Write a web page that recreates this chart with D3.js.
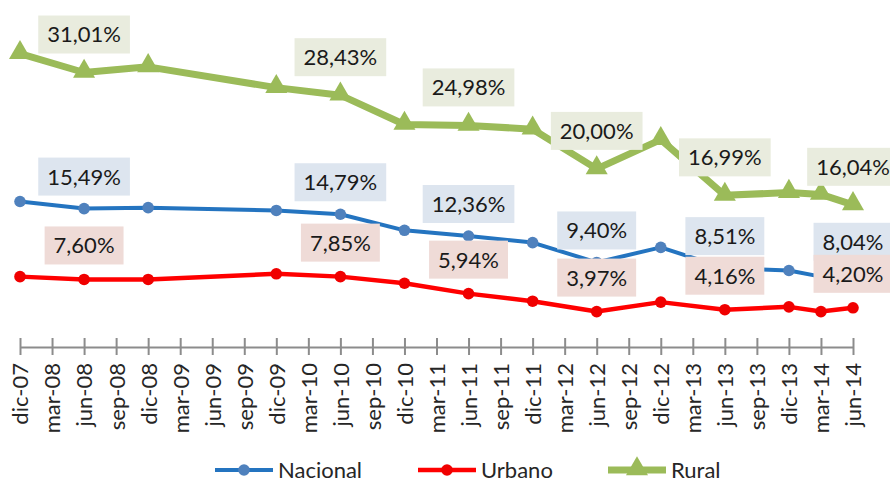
<!DOCTYPE html>
<html>
<head>
<meta charset="utf-8">
<script src="https://cdn.jsdelivr.net/npm/d3@7"></script>
<style>
  html, body { margin: 0; padding: 0; background: #fff; }
  svg { display: block; font-family: Lato, "Open Sans", sans-serif; }
</style>
</head>
<body>
<svg id="chart" width="890" height="484"></svg>
<script>
'use strict';

// quarterly categories on the x axis
var CATEGORIES = ['dic-07', 'mar-08', 'jun-08', 'sep-08', 'dic-08', 'mar-09', 'jun-09', 'sep-09',
  'dic-09', 'mar-10', 'jun-10', 'sep-10', 'dic-10', 'mar-11', 'jun-11', 'sep-11', 'dic-11',
  'mar-12', 'jun-12', 'sep-12', 'dic-12', 'mar-13', 'jun-13', 'sep-13', 'dic-13', 'mar-14', 'jun-14'];

// periods that actually have a measurement
var PERIODS = ['dic-07', 'jun-08', 'dic-08', 'dic-09', 'jun-10', 'dic-10', 'jun-11', 'dic-11',
  'jun-12', 'dic-12', 'jun-13', 'dic-13', 'mar-14', 'jun-14'];

var NACIONAL = [15.45, 14.7, 14.8, 14.5, 14.1, 12.4, 11.8, 11.1, 9.0, 10.6, 8.4, 8.15, 7.5, 7.8];
var URBANO = [7.5, 7.2, 7.2, 7.8, 7.5, 6.8, 5.7, 4.9, 3.8, 4.8, 4.0, 4.3, 3.8, 4.2];
var RURAL = [31.1, 29.1, 29.7, 27.5, 26.7, 23.6, 23.5, 23.1, 18.9, 22.0, 16.1, 16.4, 16.2, 15.1];

// data labels shown on the june points
var LABEL_PERIODS = ['jun-08', 'jun-10', 'jun-11', 'jun-12', 'jun-13', 'jun-14'];
var NACIONAL_LABELS = ['15,49%', '14,79%', '12,36%', '9,40%', '8,51%', '8,04%'];
var URBANO_LABELS = ['7,60%', '7,85%', '5,94%', '3,97%', '4,16%', '4,20%'];
var RURAL_LABELS = ['31,01%', '28,43%', '24,98%', '20,00%', '16,99%', '16,04%'];

var SERIES = [
  { name: 'Nacional', values: NACIONAL, labels: NACIONAL_LABELS, line: '#2474c0', marker: '#4f81bd',
    width: 4, shape: 'circle', box: '#dde5ef', lift: 32 },
  { name: 'Urbano', values: URBANO, labels: URBANO_LABELS, line: '#ff0000', marker: '#f00000',
    width: 4.5, shape: 'circle', box: '#efdbd7', lift: 34 },
  { name: 'Rural', values: RURAL, labels: RURAL_LABELS, line: '#9bbb59', marker: '#9bbb59',
    width: 7, shape: 'triangle', box: '#e9ecde', lift: 38 },
];

(function draw() {
  var svg = d3.select('#chart');
  var x = d3.scalePoint().domain(CATEGORIES).range([20, 853]);
  var y = d3.scaleLinear().domain([0, 35]).range([347.5, 16.75]);

  var axisG = svg.append('g').attr('transform', 'translate(0,338)')
    .call(d3.axisBottom(x).tickSize(17).tickSizeOuter(0));
  axisG.select('.domain').remove();
  axisG.selectAll('.tick line').attr('stroke', '#8c8c8c').attr('stroke-width', 2);
  axisG.selectAll('.tick text')
    .attr('transform', 'rotate(-90)')
    .attr('x', -25).attr('y', 0).attr('dy', '0.36em')
    .style('text-anchor', 'end')
    .style('font-family', 'Lato, "Open Sans", sans-serif')
    .style('font-size', '22px')
    .attr('fill', '#262626');
  svg.append('line')
    .attr('x1', x(CATEGORIES[0])).attr('x2', x(CATEGORIES[CATEGORIES.length - 1]))
    .attr('y1', y(0)).attr('y2', y(0))
    .attr('stroke', '#8c8c8c').attr('stroke-width', 2);

  function marker(g, s, cx, cy) {
    if (s.shape === 'circle') {
      g.append('circle').attr('cx', cx).attr('cy', cy).attr('r', 5.8).attr('fill', s.marker);
    } else {
      g.append('path').attr('d', d3.symbol(d3.symbolTriangle, 210)())
        .attr('transform', 'translate(' + cx + ',' + (cy - 1) + ')')
        .attr('fill', s.marker);
    }
  }

  var line = d3.line().x(function (d) { return x(d.p); }).y(function (d) { return y(d.v); });

  // draw rural first so the thinner lines sit on top
  SERIES.slice().reverse().forEach(function (s) {
    var pts = PERIODS.map(function (p, i) { return { p: p, v: s.values[i] }; });
    var g = svg.append('g');
    g.append('path').attr('d', line(pts)).attr('fill', 'none')
      .attr('stroke', s.line).attr('stroke-width', s.width).attr('stroke-linejoin', 'round');
    pts.forEach(function (d) { marker(g, s, x(d.p), y(d.v)); });
  });

  // data labels on top of the lines
  SERIES.forEach(function (s) {
    s.labels.forEach(function (txt, i) {
      var p = LABEL_PERIODS[i];
      var v = s.values[PERIODS.indexOf(p)];
      var cx = x(p), cy = y(v) - s.lift;
      var g = svg.append('g');
      var rect = g.append('rect').attr('fill', s.box);
      var t = g.append('text').attr('x', cx).attr('y', cy).attr('dy', '0.36em')
        .attr('text-anchor', 'middle').style('font-size', '22px').attr('fill', '#1a1a1a').text(txt);
      var w = t.node().getComputedTextLength() + 18;
      rect.attr('x', cx - w / 2).attr('y', cy - 19).attr('width', w).attr('height', 38);
    });
  });

  // legend
  var legendX = [215, 418, 608];
  SERIES.forEach(function (s, i) {
    var g = svg.append('g');
    var lx = legendX[i], ly = 470;
    g.append('line').attr('x1', lx).attr('x2', lx + 58).attr('y1', ly).attr('y2', ly)
      .attr('stroke', s.line).attr('stroke-width', s.width);
    marker(g, s, lx + 29, ly);
    g.append('text').attr('x', lx + 63).attr('y', ly).attr('dy', '0.36em')
      .style('font-size', '22px').attr('fill', '#262626').text(s.name);
  });
})();
</script>
</body>
</html>
